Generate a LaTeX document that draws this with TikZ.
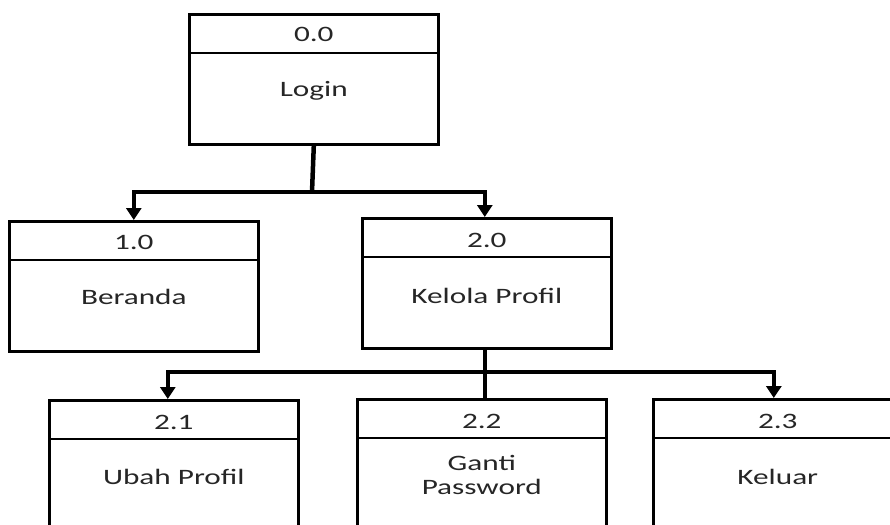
\documentclass[tikz,border=0pt]{standalone}
\usepackage{fontspec}
\usepackage{tikz}
\usetikzlibrary{arrows.meta}
\newfontfamily\boxfont[FakeStretch=1.42]{Carlito}

\begin{document}
\begin{tikzpicture}[x=1pt,y=-1pt,
    procbox/.style={draw,line width=2.6pt,minimum width=249pt,minimum height=130pt,
      inner sep=0pt,anchor=north west},
    boxtext/.style={font=\boxfont\fontsize{22}{24}\selectfont,text=black!85,
      inner sep=0pt,anchor=base,align=center},
    divline/.style={line width=2.2pt},
    stem/.style={line width=4.5pt},
    link/.style={line width=3.4pt,-{Triangle[width=15pt,length=12pt]}}]
  \useasboundingbox (0,0) rectangle (890,524);
  \clip (0,0) rectangle (890,524);

  % Process boxes
  \node[procbox] (p00) at (188,13) {};
  \node[procbox] (p10) at (8,220) {};
  \node[procbox] (p20) at (361,217) {};
  \node[procbox] (p21) at (48,399) {};
  \node[procbox] (p22) at (356,398) {};
  \node[procbox] (p23) at (652,398) {};

  % Dividers between number and name
  \foreach \p in {p00,p10,p20,p21,p22,p23}
    \draw[divline] ([yshift=-40pt]\p.north west) -- ([yshift=-40pt]\p.north east);

  % Numbers
  \node[boxtext] (n00) at ([yshift=-29pt]p00.north) {0.0};
  \node[boxtext] (n10) at ([yshift=-29pt]p10.north) {1.0};
  \node[boxtext] (n20) at ([yshift=-30pt]p20.north) {2.0};
  \node[boxtext] (n21) at ([yshift=-30pt]p21.north) {2.1};
  \node[boxtext] (n22) at ([yshift=-30pt]p22.north) {2.2};
  \node[boxtext] (n23) at ([yshift=-30pt]p23.north) {2.3};

  % Names
  \node[boxtext] (l00) at ([yshift=-84pt]p00.north) {Login};
  \node[boxtext] (l10) at ([yshift=-84pt]p10.north) {Beranda};
  \node[boxtext] (l20) at ([yshift=-86pt]p20.north) {Kelola Profil};
  \node[boxtext] (l21) at ([yshift=-85pt]p21.north) {Ubah Profil};
  \node[boxtext] (l22) at ([yshift=-96pt]p22.north) {Ganti\\Password};
  \node[boxtext] (l23) at ([yshift=-86pt]p23.north) {Keluar};

  % Level 1 connectors
  \coordinate (j0) at (312,192);
  \draw[stem] (p00.south) -- (j0);
  \draw[link] (j0) -| (p10.north);
  \draw[link] (j0) -| ([xshift=-2pt]p20.north);

  % Level 2 connectors
  \coordinate (j1) at ([xshift=-2pt]p20.south |- 0,372);
  \draw[stem] ([xshift=-2pt]p20.south) -- (j1 |- p22.north);
  \draw[link] (j1) -| ([xshift=-6pt]p21.north);
  \draw[link] (j1) -| ([xshift=-4pt]p23.north);
\end{tikzpicture}
\end{document}
